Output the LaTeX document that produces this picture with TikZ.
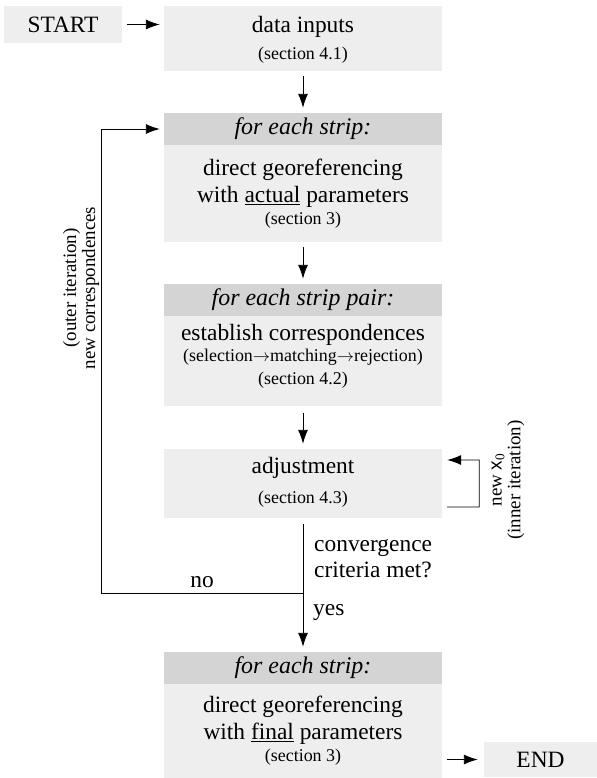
\documentclass[tikz,border=0pt]{standalone}
\usepackage{fontspec}
\setmainfont{Liberation Serif}
\setsansfont{Liberation Sans}
\usetikzlibrary{arrows.meta}
\definecolor{bodygray}{RGB}{238,238,238}
\definecolor{headgray}{RGB}{212,212,212}
\begin{document}
\begin{tikzpicture}[x=1bp,y=-1bp,
  body/.style={fill=bodygray, inner sep=0pt, minimum width=278bp},
  head/.style={fill=headgray, inner sep=0pt, minimum width=278bp, minimum height=32bp, font=\fontsize{24}{27}\selectfont\itshape},
  big/.style={font=\fontsize{23.5}{26}\selectfont, inner sep=0pt},
  small/.style={font=\fontsize{18}{20}\selectfont, inner sep=0pt},
  lab/.style={font=\fontsize{19}{19}\selectfont, inner sep=0pt},
  arr/.style={-{Latex[length=14bp,width=10bp]}, line width=0.9bp},
  ln/.style={line width=0.9bp}]
\useasboundingbox (0,0) rectangle (597,778);
% START and data inputs
\node[body, big, minimum width=118bp, minimum height=37bp] (start) at (63,24.5) {START};
\node[body, minimum height=65bp] (data) at (303,38.5) {};
\node[big] (dataT) at (303,27) {data inputs};
\node[small] (dataS) at (303,55) {(section 4.1)};
% strip 1
\node[head] (s1h) at (303,129) {for each strip:};
\node[body, minimum height=97bp] (s1b) at (303,193.5) {};
\node[big] (s1t1) at (303,170) {direct georeferencing};
\node[big] (s1t2) at (303,197) {with \underline{actual} parameters};
\node[small] (s1t3) at (303,220) {(section 3)};
% strip pair
\node[head] (s2h) at (303,300) {for each strip pair:};
\node[body, minimum height=90bp] (s2b) at (303,361) {};
\node[big] (s2t1) at (303,335) {establish correspondences};
\node[small] (s2t2) at (303,357) {(selection$\rightarrow$matching$\rightarrow$rejection)};
\node[small] (s2t3) at (303,380) {(section 4.2)};
% adjustment
\node[body, minimum height=69bp] (adj) at (303,483.5) {};
\node[big] (adjt1) at (303,468) {adjustment};
\node[small] (adjt2) at (303,499) {(section 4.3)};
% final
\node[head] (fh) at (303,668) {for each strip:};
\node[body, minimum height=94bp] (fb) at (303,731) {};
\node[big] (ft1) at (303,707) {direct georeferencing};
\node[big] (ft2) at (303,734) {with \underline{final} parameters};
\node[small] (ft3) at (303,757) {(section 3)};
% END
\node[body, big, minimum width=113bp, minimum height=35bp] (end) at (540.5,759.5) {END};
% labels
\node[big] (no) at (202,582) {no};
\node[big, anchor=west, align=left] (conv) at (314,559) {convergence\\criteria met?};
\node[big, anchor=west] (yes) at (313,613) {yes};
\node[lab, rotate=90, align=center] (inner) at (508,480) {new \textsf{x}\textsubscript{0}\\(inner iteration)};
\node[lab, rotate=90, align=center] (outer) at (81,288) {(outer iteration)\\new correspondences};
% connectors
\draw[arr, shorten <=5bp, shorten >=4bp] (start.east) -- (data.west |- start.east);
\draw[arr, shorten <=5bp, shorten >=5bp] (data) -- (s1h);
\draw[arr, shorten <=5bp, shorten >=5bp] (s1b) -- (s2h);
\draw[arr, shorten <=7bp, shorten >=5bp] (s2b) -- (adj);
\draw[arr, shorten <=6bp, shorten >=5bp] (adj) -- (fh);
\coordinate (j) at (303,593);
\coordinate (lt) at (101,129);
\draw[arr, shorten >=4bp] (j) -| (lt) -- (s1h.west);
\draw[arr, shorten <=5bp, shorten >=5bp] ([yshift=-23.5bp]adj.east) -- ++(37,0) -- ++(0,-47) -- ([yshift=23.5bp]adj.east);
\draw[arr, shorten <=5bp, shorten >=6bp] (fb.east |- end.west) -- (end.west);
\end{tikzpicture}
\end{document}
